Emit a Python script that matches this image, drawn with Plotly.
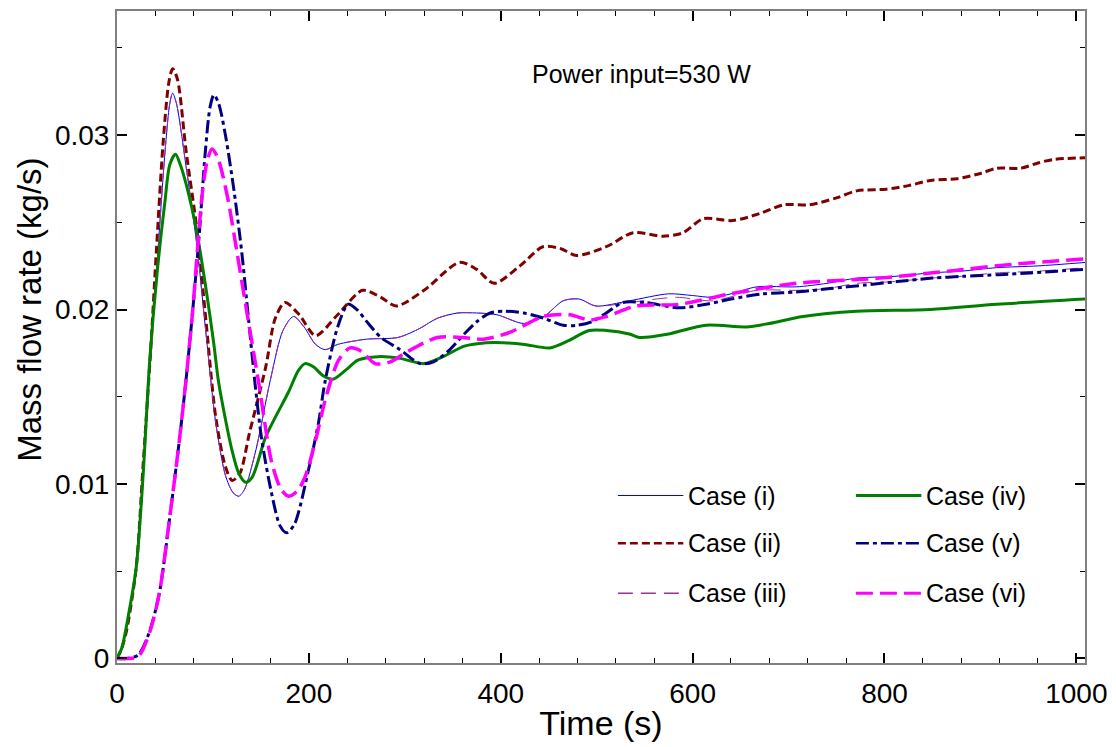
import plotly.graph_objects as go

# ---------------- data ----------------
t_i = [0, 5, 12, 20, 27, 35, 42, 50, 55, 58, 62, 72, 83, 93, 103, 113, 121, 127, 133, 145, 160, 173, 184,
       195, 207, 217, 230, 260, 293, 315, 334, 355, 375, 396, 424, 445, 465, 482, 499, 534, 575, 600, 621,
       640, 667, 708, 740, 771, 810, 848, 880, 917, 960, 1010]
m_i = [0, 0.0006, 0.0025, 0.0052, 0.0105, 0.0172, 0.0228, 0.0290, 0.0318, 0.0324, 0.0318, 0.0282, 0.0238,
       0.0185, 0.0135, 0.0105, 0.0095, 0.0093, 0.0097, 0.0120, 0.0160, 0.0188, 0.0196, 0.0190, 0.0180,
       0.0177, 0.0180, 0.0183, 0.0184, 0.0189, 0.0195, 0.0198, 0.0198, 0.0197, 0.0192, 0.0196, 0.0205,
       0.0206, 0.0202, 0.0205, 0.0209, 0.0208, 0.0207, 0.0209, 0.0213, 0.0213, 0.0215, 0.0218, 0.0219,
       0.0221, 0.0222, 0.0224, 0.0225, 0.0227]

t_ii = [0, 5, 10, 20, 27, 35, 41, 48, 54, 58, 63, 72, 83, 93, 103, 113, 120, 128, 138, 155, 165, 175, 190,
        207, 230, 256, 275, 291, 320, 357, 375, 393, 420, 444, 462, 479, 510, 538, 569, 590, 611, 642, 670,
        695, 722, 750, 771, 802, 825, 848, 876, 900, 917, 942, 960, 976, 1010]
m_ii = [0, 0.0006, 0.0016, 0.0052, 0.0109, 0.0176, 0.0233, 0.0295, 0.0330, 0.0338, 0.0332, 0.0291,
        0.0247, 0.0192, 0.0138, 0.0110, 0.0102, 0.0106, 0.0129, 0.0167, 0.0195, 0.0204, 0.0197, 0.0185,
        0.0197, 0.0211, 0.0207, 0.0202, 0.0211, 0.0227, 0.0223, 0.0215, 0.0225, 0.0236, 0.0235, 0.0231,
        0.0236, 0.0244, 0.0242, 0.0244, 0.0252, 0.0251, 0.0255, 0.0260, 0.0260, 0.0264, 0.0268, 0.0269,
        0.0271, 0.0274, 0.0275, 0.0278, 0.0281, 0.0281, 0.0284, 0.0286, 0.0287]

t_iii = [0, 5, 12, 20, 27, 35, 42, 50, 55, 58, 62, 72, 83, 93, 103, 113, 121, 127, 133, 145, 160, 173, 184,
         195, 207, 217, 230, 260, 293, 315, 334, 355, 375, 396, 424, 445, 465, 482, 499, 534, 583, 621,
         667, 708, 740, 771, 810, 848, 880, 917, 960, 1010]
m_iii = [0, 0.0006, 0.0025, 0.0052, 0.0105, 0.0172, 0.0228, 0.0290, 0.0318, 0.0324, 0.0318, 0.0282, 0.0238,
         0.0185, 0.0135, 0.0105, 0.0095, 0.0093, 0.0097, 0.0120, 0.0160, 0.0188, 0.0196, 0.0190, 0.0180,
         0.0177, 0.0180, 0.0183, 0.0184, 0.0189, 0.0195, 0.0198, 0.0198, 0.0197, 0.0192, 0.0196, 0.0205,
         0.0206, 0.0202, 0.0204, 0.0207, 0.0205, 0.0211, 0.0211, 0.0212, 0.0215, 0.0216, 0.0218, 0.0219,
         0.0221, 0.0222, 0.0224]

t_iv = [0, 5, 12, 20, 27, 34, 42, 50, 55, 61, 66, 72, 83, 93, 101, 106, 120, 127, 134, 141, 155, 179, 189,
        196, 205, 215, 225, 240, 251, 272, 295, 320, 340, 362, 385, 403, 425, 451, 470, 492, 510, 534, 545,
        575, 614, 656, 680, 715, 771, 848, 917, 1010]
m_iv = [0, 0.0006, 0.0025, 0.0052, 0.0103, 0.0170, 0.0222, 0.0262, 0.0283, 0.0289, 0.0283, 0.0272,
        0.0245, 0.0211, 0.0180, 0.0158, 0.0119, 0.0106, 0.0101, 0.0104, 0.0127, 0.0153, 0.0165, 0.0169,
        0.0167, 0.0162, 0.0160, 0.0166, 0.0171, 0.0173, 0.0172, 0.0169, 0.0173, 0.0179, 0.0181, 0.0181,
        0.0180, 0.0178, 0.0182, 0.0188, 0.0188, 0.0186, 0.0184, 0.0186, 0.0191, 0.0190, 0.0192, 0.0196,
        0.0199, 0.0200, 0.0203, 0.0206]

t_v = [0, 10, 22, 33, 44, 55, 65, 72, 79, 86, 92, 97, 101, 106, 113, 122, 130, 137, 144, 151, 161, 170,
       177, 185, 200, 210, 217, 230, 241, 250, 262, 275, 295, 316, 330, 345, 362, 375, 389, 405, 424, 445,
       465, 480, 495, 510, 527, 550, 586, 614, 640, 673, 708, 743, 780, 813, 850, 882, 920, 952, 980, 1010]
m_v = [0, 0.0000, 0.0002, 0.0014, 0.0037, 0.0081, 0.0125, 0.0160, 0.0200, 0.0245, 0.0290, 0.0316, 0.0323,
       0.0318, 0.0300, 0.0268, 0.0233, 0.0195, 0.0157, 0.0125, 0.0095, 0.0076, 0.0072, 0.0077, 0.0109,
       0.0135, 0.0159, 0.0190, 0.0203, 0.0200, 0.0192, 0.0184, 0.0177, 0.0169, 0.0170, 0.0176, 0.0186,
       0.0193, 0.0198, 0.0199, 0.0198, 0.0195, 0.0191, 0.0191, 0.0193, 0.0198, 0.0204, 0.0204, 0.0201,
       0.0203, 0.0206, 0.0209, 0.0210, 0.0212, 0.0214, 0.0216, 0.0218, 0.0219, 0.0220, 0.0221, 0.0222,
       0.0223]

t_vi = [0, 10, 22, 34, 44, 55, 65, 72, 79, 84, 89, 94, 99, 105, 115, 125, 134, 148, 161, 171, 179, 188,
        196, 207, 217, 231, 243, 255, 269, 285, 300, 334, 360, 382, 410, 444, 472, 492, 510, 541, 586, 639,
        708, 795, 866, 935, 1010]
m_vi = [0, 0.0000, 0.0001, 0.0015, 0.0037, 0.0081, 0.0125, 0.0160, 0.0200, 0.0235, 0.0267, 0.0285,
        0.0292, 0.0287, 0.0265, 0.0233, 0.0203, 0.0157, 0.0113, 0.0097, 0.0093, 0.0096, 0.0104, 0.0125,
        0.0148, 0.0171, 0.0178, 0.0176, 0.0169, 0.0170, 0.0175, 0.0184, 0.0184, 0.0183, 0.0187, 0.0196,
        0.0197, 0.0194, 0.0196, 0.0202, 0.0203, 0.0209, 0.0215, 0.0218, 0.0222, 0.0226, 0.0229]

names = ["Case (i)", "Case (ii)", "Case (iii)", "Case (iv)", "Case (v)", "Case (vi)"]
x_ticks = [0, 200, 400, 600, 800, 1000]
y_ticks = [0, 0.01, 0.02, 0.03]
y_ticktext = ["0", "0.01", "0.02", "0.03"]

# ---------------- styles ----------------
styles = [
    dict(color="#0000ff", width=1, dash="solid"),
    dict(color="#800000", width=3, dash="8px,4px"),
    dict(color="#993399", width=1, dash="15px,8px"),
    dict(color="#008000", width=3, dash="solid"),
    dict(color="#000080", width=3, dash="13px,4px,4px,4px"),
    dict(color="#ff00ff", width=3.5, dash="17px,7px"),
]
legend_widths = [1.2, 2.5, 1.5, 3, 2.5, 3]
series = [(t_i, m_i), (t_ii, m_ii), (t_iii, m_iii), (t_iv, m_iv), (t_v, m_v), (t_vi, m_vi)]

FONT = "Liberation Sans, Arial, sans-serif"
W, H = 1116, 747
L, R, T, B = 117, 1093, 9, 663

fig = go.Figure()
for (tt, mm), nm, st in zip(series, names, styles):
    fig.add_trace(go.Scatter(x=tt, y=mm, mode="lines", name=nm, showlegend=False,
                             line=dict(shape="spline", smoothing=0.8, **st)))


def px_x(p):
    return (p - L) / (R - L)


def px_y(p):
    return (B - p) / (B - T)


# manual two-column legend
shapes = []
annos = []
rows = [495, 543, 593]
cols = [(622, 688), (862, 928)]
for k, (nm, st) in enumerate(zip(names, styles)):
    c, r = divmod(k, 3)
    x0, x1 = cols[c]
    yy = rows[r]
    shapes.append(dict(type="line", xref="paper", yref="paper",
                       x0=px_x(x0), x1=px_x(x1), y0=px_y(yy), y1=px_y(yy),
                       line=dict(color=st["color"], width=legend_widths[k], dash=st["dash"])))
    annos.append(dict(xref="paper", yref="paper", x=px_x(x1 + 3), y=px_y(yy), text=nm,
                      showarrow=False, xanchor="left", yanchor="middle",
                      font=dict(family=FONT, size=25, color="black")))

annos.append(dict(xref="paper", yref="paper", x=px_x(646), y=px_y(72), text="Power input=530 W",
                  showarrow=False, xanchor="center", yanchor="middle",
                  font=dict(family=FONT, size=25, color="black")))
annos.append(dict(xref="paper", yref="paper", x=px_x(28), y=px_y(309), text="Mass flow rate (kg/s)",
                  showarrow=False, textangle=-90, xanchor="center", yanchor="middle",
                  font=dict(family=FONT, size=33, color="black")))

axis_common = dict(showline=True, linecolor="#808080", linewidth=2, mirror="ticks",
                   ticks="inside", tickcolor="black", tickwidth=1.5, ticklen=10,
                   showgrid=False, zeroline=False,
                   tickfont=dict(family=FONT, size=28, color="black"))

fig.update_layout(
    width=W, height=H,
    margin=dict(l=L, r=W - R, t=T, b=H - B),
    paper_bgcolor="white", plot_bgcolor="white",
    shapes=shapes, annotations=annos,
    xaxis=dict(range=[0, 1009], tickvals=x_ticks,
               minor=dict(dtick=40, tick0=0, ticks="inside", ticklen=5, tickcolor="black", tickwidth=1.2),
               title=dict(text="Time (s)", font=dict(family=FONT, size=34, color="black"), standoff=4),
               ticklabelstandoff=4,
               **axis_common),
    yaxis=dict(range=[-0.00026, 0.03711], tickvals=y_ticks, ticktext=y_ticktext,
               minor=dict(dtick=0.005, tick0=0, ticks="inside", ticklen=5, tickcolor="black", tickwidth=1.2),
               **axis_common),
)

fig.write_html("out.html")
